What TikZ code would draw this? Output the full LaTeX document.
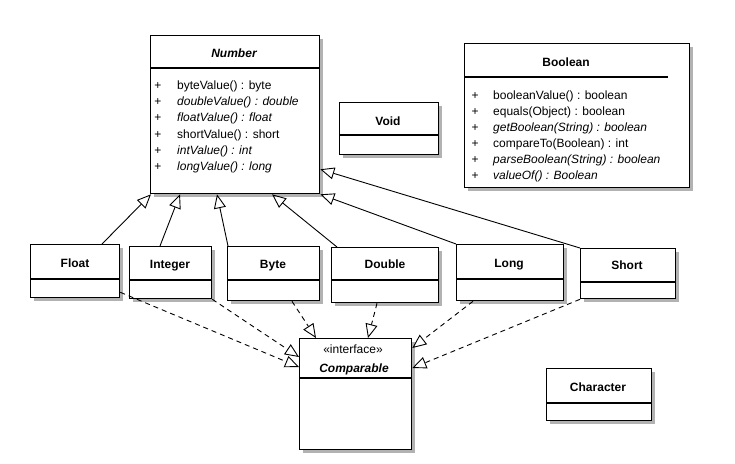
\documentclass[tikz,border=0pt]{standalone}
\usepackage{fontspec}
\setmainfont{Liberation Sans}
\usetikzlibrary{arrows.meta,calc}
\tikzset{
  classbox/.style={draw=black, line width=1.3pt, fill=white, inner sep=0pt, anchor=north west},
  shadowbox/.style={fill=black!30},
  divider/.style={line width=1.3pt},
  title/.style={font=\bfseries\fontsize{12}{14}\selectfont, inner sep=0pt, anchor=base},
  ititle/.style={font=\bfseries\itshape\fontsize{12}{14}\selectfont, inner sep=0pt, anchor=base},
  stereo/.style={font=\fontsize{12}{14}\selectfont, inner sep=0pt, anchor=base},
  member/.style={font=\fontsize{12}{14}\selectfont, inner sep=0pt, anchor=base west},
  imember/.style={member, font=\itshape\fontsize{12}{14}\selectfont},
  plus/.style={font=\fontsize{12}{14}\selectfont, inner sep=0pt, anchor=base},
  gen/.style={line width=0.9pt, -{Triangle[open, length=14pt, width=12pt]}},
  real/.style={gen, dash pattern=on 5pt off 4pt},
}
\newcommand\umlclass[7]{%
  \fill[shadowbox] (#2+4,#3+4) rectangle (#4+4,#5+4);
  \node[classbox, minimum width={(#4-#2)*1pt}, minimum height={(#5-#3)*1pt}] (#1) at (#2,#3) {};
  \draw[divider] (#2,#6) -- (#7,#6);
}
\begin{document}
\begin{tikzpicture}[x=1pt,y=-1pt]
\useasboundingbox[fill=white] (0,0) rectangle (735,463);

% classes
\umlclass{number}{150}{35}{319}{193}{68}{319}
\umlclass{boolean}{464}{43}{689}{187}{77}{668}
\umlclass{void}{339}{102}{438}{154}{135}{438}
\umlclass{character}{546}{368}{651}{420}{403}{651}
\umlclass{float}{30}{244}{119}{297}{279}{119}
\umlclass{integer}{129}{246}{211}{298}{280}{211}
\umlclass{byte}{227}{246}{319}{300}{280}{319}
\umlclass{double}{331}{247}{438}{302}{280}{438}
\umlclass{long}{456}{244}{563}{300}{279}{563}
\umlclass{short}{580}{248}{675}{298}{282}{675}
\umlclass{comp}{299}{338}{411}{449}{378}{411}

% titles
\node[ititle] (numbert) at (234,57.5) {Number};
\node[title] (booleant) at (566,66.5) {Boolean};
\node[title] (voidt) at (388,125.5) {Void};
\node[title] (charactert) at (598,391.5) {Character};
\node[title] (floatt) at (75,267.5) {Float};
\node[title] (integert) at (170,268.5) {Integer};
\node[title] (bytet) at (273,268.5) {Byte};
\node[title] (doublet) at (385,268.5) {Double};
\node[title] (longt) at (509,267.5) {Long};
\node[title] (shortt) at (627,269.5) {Short};
\node[stereo] (compst) at (353,353) {«interface»};
\node[ititle] (compt) at (354,372.5) {Comparable};

% Number members
\node[plus] (np1) at (158,89.5) {+};
\node[plus] (np2) at (158,105.7) {+};
\node[plus] (np3) at (158,121.9) {+};
\node[plus] (np4) at (158,138.1) {+};
\node[plus] (np5) at (158,154.3) {+};
\node[plus] (np6) at (158,170.5) {+};
\node[member] (nm1) at (177,89.5) {byteValue() : byte};
\node[imember] (nm2) at (177,105.7) {doubleValue() : double};
\node[imember] (nm3) at (177,121.9) {floatValue() : float};
\node[member] (nm4) at (177,138.1) {shortValue() : short};
\node[imember] (nm5) at (177,154.3) {intValue() : int};
\node[imember] (nm6) at (177,170.5) {longValue() : long};

% Boolean members
\node[plus] (bp1) at (475,99) {+};
\node[plus] (bp2) at (475,115) {+};
\node[plus] (bp3) at (475,131) {+};
\node[plus] (bp4) at (475,147) {+};
\node[plus] (bp5) at (475,163) {+};
\node[plus] (bp6) at (475,179) {+};
\node[member] (bm1) at (493,99) {booleanValue() : boolean};
\node[member] (bm2) at (493,115) {equals(Object) : boolean};
\node[imember] (bm3) at (493,131) {getBoolean(String) : boolean};
\node[member] (bm4) at (493,147) {compareTo(Boolean) : int};
\node[imember] (bm5) at (493,163) {parseBoolean(String) : boolean};
\node[imember] (bm6) at (493,179) {valueOf() : Boolean};

% generalizations
\draw[gen] ([xshift=72pt]float.north west) -- ([xshift=1pt]number.south west);
\draw[gen] ([xshift=31pt]integer.north west) -- ([xshift=30pt]number.south west);
\draw[gen] ([xshift=1pt]byte.north west) -- ([xshift=67pt]number.south west);
\draw[gen] ([xshift=6pt]double.north west) -- ([xshift=122pt]number.south west);
\draw[gen] (long.north west) -- (number.south east);
\draw[gen] (short.north west) -- ([yshift=25pt]number.south east);

% realizations
\draw[real] ([yshift=6pt]float.south east) -- ([yshift=-29pt]comp.north west);
\draw[real] (integer.south east) -- ([yshift=-19pt]comp.north west);
\draw[real] ([xshift=65pt]byte.south west) -- ([xshift=17pt]comp.north west);
\draw[real] ([xshift=46pt]double.south west) -- ([xshift=69pt]comp.north west);
\draw[real] ([xshift=17pt]long.south west) -- ([yshift=-10pt]comp.north east);
\draw[real] (short.south west) -- ([yshift=-30pt]comp.north east);
\end{tikzpicture}
\end{document}
